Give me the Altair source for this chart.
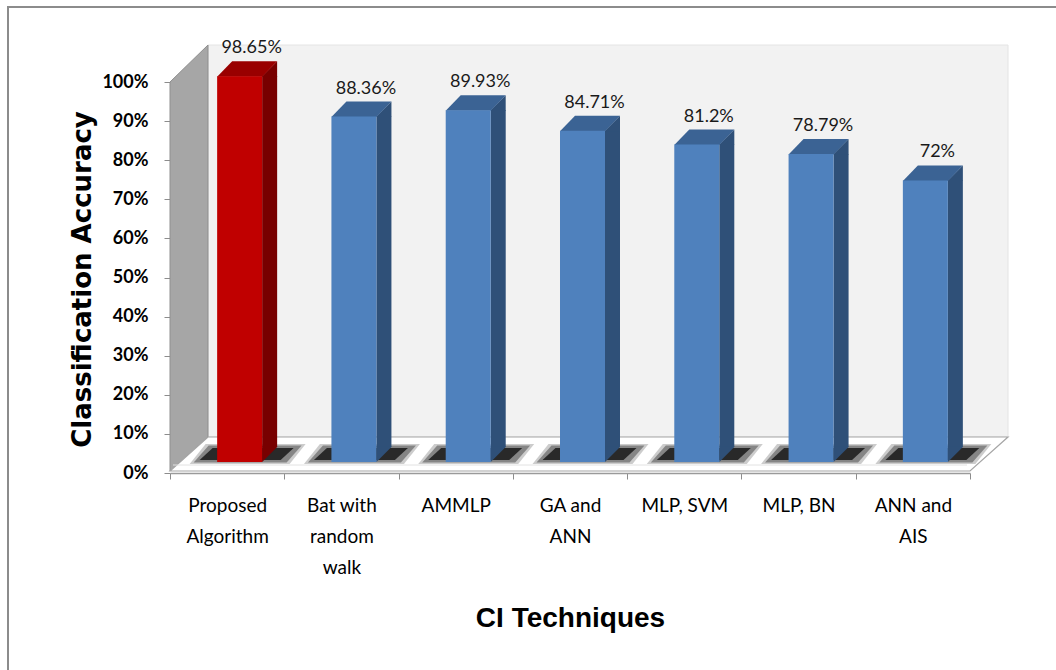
import altair as alt
import pandas as pd

# ---------------- data ----------------
techniques = ["Proposed Algorithm", "Bat with random walk", "AMMLP", "GA and ANN",
              "MLP, SVM", "MLP, BN", "ANN and AIS"]
accuracy = [98.65, 88.36, 89.93, 84.71, 81.2, 78.79, 72]
value_labels = ["98.65%", "88.36%", "89.93%", "84.71%", "81.2%", "78.79%", "72%"]
tick_label_lines = [["Proposed", "Algorithm"], ["Bat with", "random", "walk"], ["AMMLP"],
                    ["GA and", "ANN"], ["MLP, SVM"], ["MLP, BN"], ["ANN and", "AIS"]]
y_ticks = [0, 10, 20, 30, 40, 50, 60, 70, 80, 90, 100]

df = pd.DataFrame({"technique": techniques, "accuracy": accuracy,
                   "label": value_labels, "base": [0] * len(techniques)})
one = pd.DataFrame({"d": [0]})

# ---------------- styling ----------------
W, H = 838, 428            # plot area (page x 170..1008, y 45..473)
XR = 800                   # category range (page x 170..970)
YMAX = H / 391 * 100       # 100% sits 391 px above the 0% line
FRONT_SHIFT = 12.5         # bars sit a bit right of the band centre (3D depth)
LIFT = -11                 # bars stand on the middle of the floor
D = 15                     # depth of the bars in px

RED, BLUE = "#c00000", "#4f81bd"
RED_TOP, BLUE_TOP = "#990000", "#3b6394"
RED_SIDE, BLUE_SIDE = "#780000", "#2f5078"

is_first = alt.datum.technique == techniques[0]


def pick(a, b):
    return alt.when(is_first).then(alt.value(a)).otherwise(alt.value(b))


expr = "''"
for name, lines in reversed(list(zip(techniques, tick_label_lines))):
    arr = "[" + ",".join("'" + s + "'" for s in lines) + "]"
    expr = f"datum.value == '{name}' ? {arr} : ({expr})"

x_enc = alt.X(
    "technique:N",
    sort=techniques,
    scale=alt.Scale(domain=techniques, range=[0, XR], paddingInner=0, paddingOuter=0),
    axis=alt.Axis(
        title="CI Techniques", labelExpr=expr, labelAngle=0, tickBand="extent",
        tickSize=6, tickColor="#8c8c8c", domainColor="#9a9a9a", domainWidth=1.5,
        labelFont="Lato", labelFontSize=19, labelLineHeight=31, labelBaseline="top",
        labelPadding=17, labelColor="black", titleFont="Liberation Sans",
        titleFontSize=28, titleFontWeight="bold", titleY=145, titleBaseline="middle",
        titleColor="black",
    ),
)

y_axis = alt.Axis(
    values=y_ticks, labelExpr="datum.value + '%'", domain=False, grid=False,
    tickSize=6, tickColor="#8c8c8c", labelFont="Lato", labelFontSize=18,
    labelFontWeight="bold", labelColor="black", labelPadding=16,
    title="Classification  Accuracy", titleFont="DejaVu Sans", titleFontSize=26,
    titleFontWeight="bold", titleAngle=270, titleX=-88, titleY=234,
    titleAlign="center", titleBaseline="middle", titleColor="black",
)
y_scale = alt.Scale(domain=[0, YMAX], nice=False, zero=True)


def y_of(field):
    return alt.Y(field + ":Q", scale=y_scale, axis=y_axis,
                 title="Classification  Accuracy")


y_enc = y_of("accuracy")
y_base = y_of("base")


def poly(path, fill, stroke=None, sw=0, opacity=1.0):
    kw = dict(shape=path, size=4, filled=True, opacity=opacity, fill=fill,
              strokeWidth=sw)
    if stroke:
        kw["stroke"] = stroke
    return alt.Chart(one).mark_point(**kw).encode(x=alt.value(0), y=alt.value(H))


# ---------------- chart furniture ----------------
frame_v = alt.Chart(one).mark_rule(color="#8c8c8c", strokeWidth=2).encode(
    x=alt.value(-162), y=alt.value(-38), y2=alt.value(640))
frame_h = alt.Chart(one).mark_rule(color="#8c8c8c", strokeWidth=2).encode(
    x=alt.value(-163), x2=alt.value(890), y=alt.value(-38))

back_wall = poly("M38,-428L838,-428L838,-36L38,-36Z", "#f2f2f2", "#e4e4e4", 1)
left_wall = poly("M0,-391L38,-428L38,-36L0,-2Z", "#a6a6a6", "#8f8f8f", 1)
floor = poly("M0,-2L38,-36L838,-36L800,-2Z", "#ffffff", "#a6a6a6", 1.2)
floor_lip = poly("M3,-8L797,-8", "none", "#e2e2e2", 1)

# ---------------- bars ----------------
base = alt.Chart(df)

shadow_soft = base.mark_point(
    shape="M-50,2L50,2L66,-18L-34,-18Z", size=4, filled=True, opacity=0.2,
    xOffset=FRONT_SHIFT, yOffset=LIFT, strokeWidth=0, fill="#000000",
).encode(x=x_enc, y=y_base)
shadow_mid = base.mark_point(
    shape="M-46,0.5L47,0.5L62,-16.5L-31,-16.5Z", size=4, filled=True, opacity=0.35,
    xOffset=FRONT_SHIFT, yOffset=LIFT, strokeWidth=0, fill="#000000",
).encode(x=x_enc, y=y_base)
shadow_core = base.mark_point(
    shape="M-40,-2L41,-2L54,-14L-27,-14Z", size=4, filled=True, opacity=0.8,
    xOffset=FRONT_SHIFT, yOffset=LIFT, strokeWidth=0, fill="#111111",
).encode(x=x_enc, y=y_base)

side = base.mark_bar(width=D, xOffset=FRONT_SHIFT + 22.5 + D / 2,
                     yOffset=LIFT, y2Offset=LIFT - D).encode(
    x=x_enc, y=y_enc, y2="base:Q", color=pick(RED_SIDE, BLUE_SIDE))
side_top = base.mark_point(
    shape="M22.5,0L37.5,-15L37.5,0.6L22.5,0.6Z", size=4, filled=True, opacity=1,
    xOffset=FRONT_SHIFT, yOffset=LIFT, strokeWidth=0,
).encode(x=x_enc, y=y_enc, fill=pick(RED_SIDE, BLUE_SIDE))
side_bottom = base.mark_point(
    shape="M22.5,-15.6L37.5,-15.6L37.5,-15L22.5,0Z", size=4, filled=True, opacity=1,
    xOffset=FRONT_SHIFT, yOffset=LIFT, strokeWidth=0,
).encode(x=x_enc, y=y_base, fill=pick(RED_SIDE, BLUE_SIDE))
top_face = base.mark_point(
    shape="M-22.5,0.5L22.5,0.5L37.5,-15L-7.5,-15Z", size=4, filled=True, opacity=1,
    xOffset=FRONT_SHIFT, yOffset=LIFT, strokeWidth=0,
).encode(x=x_enc, y=y_enc, fill=pick(RED_TOP, BLUE_TOP))
front = base.mark_bar(width=45, xOffset=FRONT_SHIFT, yOffset=LIFT, y2Offset=LIFT).encode(
    x=x_enc, y=y_enc, y2="base:Q", color=pick(RED, BLUE))

labels = base.mark_text(
    font="Lato", fontSize=18, color="#1a1a1a", baseline="alphabetic", align="center",
    xOffset=FRONT_SHIFT + 12, yOffset=LIFT - 23,
).encode(x=x_enc, y=y_enc, text="label:N")

chart = alt.layer(
    frame_v, frame_h, back_wall, left_wall, floor, floor_lip,
    shadow_soft, shadow_mid, shadow_core, side, side_top, side_bottom, top_face,
    front, labels,
).properties(
    width=W, height=H,
    autosize=alt.AutoSizeParams(type="none"),
    padding={"left": 170, "top": 45, "right": 48, "bottom": 197},
    background="white",
).configure_view(stroke="transparent")

chart.save("out.html", embed_options={"renderer": "svg", "actions": False})
